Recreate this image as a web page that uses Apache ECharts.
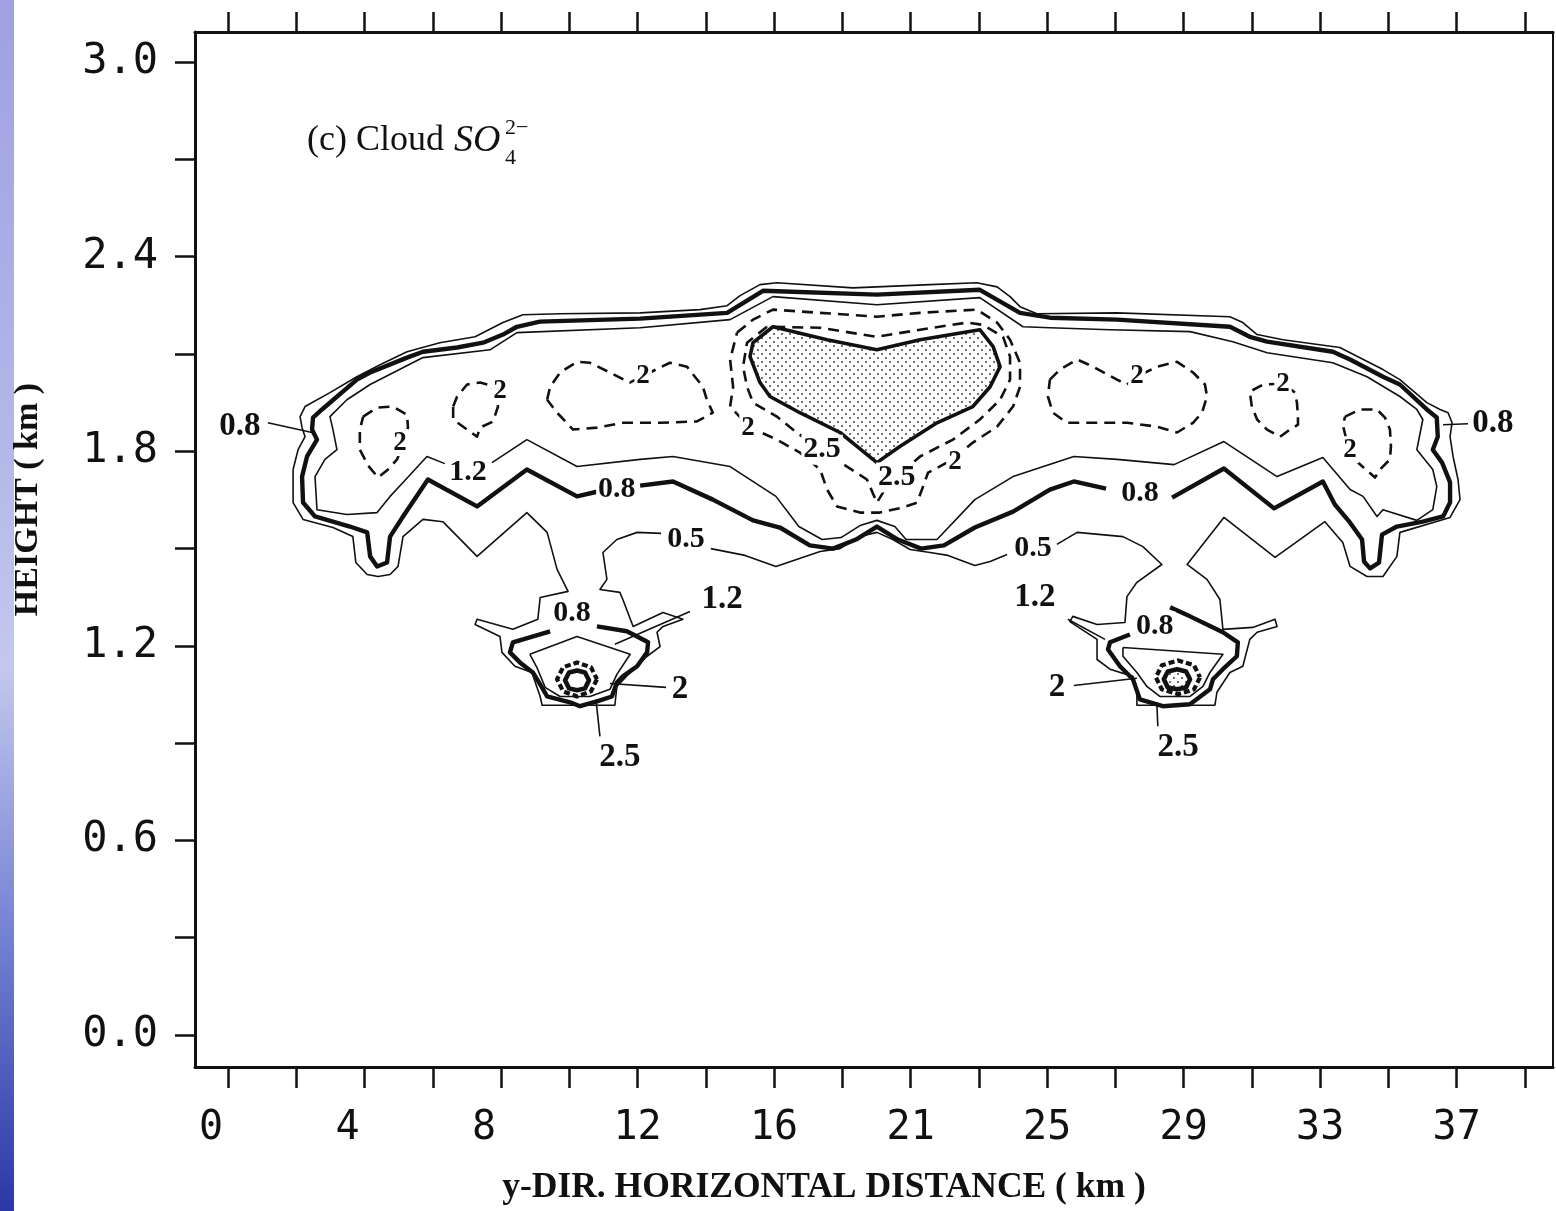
<!DOCTYPE html>
<html><head><meta charset="utf-8">
<script src="https://cdn.jsdelivr.net/npm/echarts@6/dist/echarts.min.js"></script>
<style>html,body{margin:0;padding:0;background:#fff;}#c{width:1556px;height:1211px;}</style>
</head><body><div id="c"></div>
<script>
// ---- axis definitions (km, height km) ----
const xTickKm = [0,2.056,4.111,6.167,8.222,10.278,12.333,14.389,16.444,18.5,20.556,22.611,24.667,26.722,28.778,30.833,32.889,34.944,37,39.056];
const xLabelKm = [0,4.111,8.222,12.333,16.444,20.556,24.667,28.778,32.889,37];
const xTickLabels = ['0','4','8','12','16','21','25','29','33','37'];
const yTickVals = [0,0.3,0.6,0.9,1.2,1.5,1.8,2.1,2.4,2.7,3.0];
const yLabelVals = [0,0.6,1.2,1.8,2.4,3.0];

// ---- contour 0.5 (thin) ----
const c05Main = [[13.04,1.547],[12.32,1.550],[11.71,1.528],[11.29,1.488],[11.41,1.405],[11.20,1.374],[11.80,1.365],[11.89,1.343],[12.20,1.260],[13.10,1.303],[13.70,1.282],[13.10,1.260],[12.92,1.242],[13.01,1.198],[12.62,1.168],[12.11,1.118],[11.71,1.075],[11.65,1.017],[9.46,1.017],[9.40,1.044],[9.15,1.118],[8.64,1.137],[8.25,1.180],[8.19,1.229],[7.44,1.266],[7.50,1.282],[8.58,1.251],[9.33,1.282],[9.40,1.349],[10.24,1.368],[9.91,1.436],[9.61,1.550],[9.00,1.611],[7.50,1.476],[6.47,1.583],[5.87,1.590],[5.27,1.537],[5.12,1.445],[4.88,1.420],[4.52,1.414],[4.19,1.420],[3.85,1.457],[3.76,1.537],[3.16,1.565],[2.26,1.590],[1.96,1.642],[1.96,1.744],[2.11,1.805],[2.32,1.845],[2.23,1.873],[2.17,1.907],[2.32,1.938],[3.07,1.981],[3.88,2.030],[4.58,2.067],[5.39,2.107],[6.38,2.135],[7.44,2.153],[8.28,2.197],[8.88,2.221],[10.00,2.224],[12.41,2.227],[14.21,2.237],[15.03,2.249],[15.42,2.280],[16.02,2.314],[16.53,2.320],[18.82,2.304],[21.14,2.314],[22.55,2.320],[23.16,2.307],[23.55,2.277],[23.85,2.246],[24.36,2.224],[26.77,2.227],[30.17,2.215],[30.56,2.197],[30.99,2.160],[31.77,2.144],[33.48,2.120],[33.79,2.104],[34.78,2.052],[35.29,2.021],[36.10,1.950],[36.50,1.929],[36.74,1.919],[36.86,1.888],[36.80,1.845],[36.89,1.784],[37.04,1.713],[37.10,1.651],[36.80,1.596],[35.29,1.550],[35.20,1.476],[34.78,1.414],[34.30,1.414],[33.79,1.445],[33.57,1.519],[33.03,1.583],[31.53,1.473],[29.99,1.596],[28.88,1.451],[29.48,1.405],[29.87,1.343],[29.96,1.251],[30.86,1.257],[31.53,1.282],[31.59,1.260],[30.99,1.242],[30.77,1.220],[30.56,1.137],[30.17,1.118],[29.78,1.057],[29.72,1.017],[27.37,1.017],[27.37,1.057],[27.25,1.106],[26.56,1.128],[26.17,1.158],[26.17,1.220],[25.35,1.275],[25.44,1.291],[26.17,1.266],[27.01,1.272],[27.07,1.352],[27.37,1.396],[28.12,1.451],[27.55,1.506],[26.95,1.537],[25.57,1.550],[24.96,1.513]];
const c05Mid = [[23.46,1.482],[22.95,1.460],[22.49,1.448],[21.68,1.479],[21.14,1.488],[20.54,1.497],[20.02,1.528],[19.54,1.550],[19.03,1.537],[18.43,1.500],[17.83,1.491],[16.50,1.445],[15.57,1.479],[14.54,1.500]];

// ---- contour 0.8 (thick) ----
const c08Bottom = [[12.41,1.694],[13.40,1.707],[14.60,1.651],[15.81,1.587],[16.62,1.565],[17.52,1.510],[18.22,1.500],[18.91,1.528],[19.54,1.568],[20.17,1.528],[20.87,1.500],[21.56,1.510],[22.49,1.565],[23.64,1.614],[24.75,1.682],[25.47,1.707],[26.44,1.685]];
const c08Main = [[28.43,1.657],[29.99,1.747],[31.50,1.624],[32.97,1.707],[33.33,1.636],[33.79,1.580],[34.15,1.528],[34.21,1.460],[34.39,1.439],[34.66,1.457],[34.75,1.543],[35.20,1.568],[35.98,1.583],[36.59,1.599],[36.80,1.642],[36.80,1.704],[36.56,1.765],[36.28,1.805],[36.43,1.845],[36.40,1.904],[36.10,1.929],[35.29,2.006],[34.78,2.030],[33.79,2.083],[33.27,2.107],[31.29,2.138],[30.77,2.153],[30.17,2.184],[26.77,2.206],[24.75,2.212],[23.85,2.227],[22.64,2.298],[19.54,2.283],[16.11,2.295],[15.03,2.227],[12.41,2.209],[9.39,2.200],[8.70,2.184],[8.28,2.160],[7.68,2.135],[6.90,2.120],[5.87,2.107],[5.39,2.089],[4.28,2.043],[3.88,2.021],[2.83,1.929],[2.56,1.904],[2.53,1.867],[2.68,1.836],[2.38,1.784],[2.23,1.722],[2.26,1.642],[2.62,1.599],[3.67,1.568],[4.19,1.550],[4.28,1.476],[4.49,1.445],[4.79,1.457],[4.88,1.537],[5.27,1.599],[6.02,1.713],[7.50,1.630],[9.00,1.744],[10.51,1.661],[11.14,1.676]];

// ---- contour 1.2 (thin) ----
const c12 = [[7.95,1.765],[9.00,1.836],[10.51,1.753],[12.41,1.775],[13.40,1.784],[15.12,1.753],[16.50,1.661],[17.19,1.568],[17.89,1.528],[18.46,1.534],[19.03,1.571],[19.54,1.587],[20.08,1.568],[20.42,1.528],[21.35,1.528],[22.49,1.651],[23.64,1.722],[25.47,1.784],[26.77,1.775],[28.49,1.759],[29.99,1.830],[31.59,1.722],[32.97,1.781],[33.79,1.682],[34.18,1.661],[34.60,1.599],[34.78,1.620],[35.80,1.587],[36.28,1.620],[36.40,1.691],[36.28,1.744],[35.80,1.805],[35.98,1.898],[35.80,1.929],[35.29,1.969],[34.30,2.030],[33.27,2.073],[31.29,2.104],[30.26,2.138],[28.97,2.169],[26.56,2.175],[24.75,2.181],[23.94,2.184],[22.64,2.274],[19.54,2.252],[16.41,2.277],[15.12,2.206],[12.41,2.181],[8.70,2.166],[7.89,2.113],[5.87,2.089],[4.28,2.006],[3.58,1.959],[3.07,1.907],[3.16,1.867],[3.28,1.805],[2.92,1.775],[2.62,1.722],[2.68,1.620],[3.58,1.605],[4.49,1.611],[4.88,1.661],[5.27,1.704],[5.99,1.784],[6.53,1.762]];

// ---- contour 2 (dashed loops) ----
const c2LoopA = [[4.07,1.907],[4.49,1.935],[4.97,1.938],[5.39,1.913],[5.42,1.873],[5.30,1.830],[5.09,1.775],[4.82,1.744],[4.52,1.719],[4.22,1.756],[3.97,1.805],[3.97,1.867]];
const c2LoopB = [[6.78,1.938],[6.90,1.969],[7.20,2.006],[7.59,2.012],[7.95,2.002],[8.13,1.938],[7.98,1.892],[7.59,1.873],[7.50,1.845],[7.20,1.867],[6.78,1.898]];
const c2LoopC = [[9.61,1.959],[9.70,1.999],[10.00,2.043],[10.51,2.076],[10.90,2.073],[11.50,2.043],[12.10,2.012],[12.50,2.033],[13.31,2.073],[13.82,2.061],[14.30,1.999],[14.42,1.959],[14.60,1.919],[14.12,1.892],[13.01,1.888],[11.89,1.888],[11.11,1.873],[10.39,1.867],[9.91,1.919]];
const c2Centre = [[15.33,2.166],[15.81,2.206],[16.41,2.237],[17.83,2.227],[19.54,2.215],[20.84,2.227],[22.55,2.237],[23.16,2.197],[23.55,2.144],[23.85,2.073],[23.85,1.999],[23.64,1.938],[23.16,1.876],[22.43,1.827],[21.83,1.775],[21.08,1.734],[20.93,1.691],[20.75,1.642],[20.33,1.627],[19.63,1.611],[19.03,1.611],[18.34,1.630],[18.04,1.682],[17.83,1.744],[17.22,1.796],[16.53,1.836],[15.72,1.873],[15.12,1.938],[15.21,1.999],[15.12,2.083]];
const c2LoopD = [[24.75,2.021],[25.05,2.052],[25.57,2.083],[26.05,2.061],[26.77,2.021],[27.07,2.006],[27.37,2.030],[27.97,2.061],[28.58,2.076],[29.06,2.043],[29.42,2.006],[29.48,1.969],[29.33,1.919],[29.06,1.888],[28.58,1.858],[27.97,1.876],[27.07,1.888],[26.26,1.888],[25.26,1.888],[24.84,1.919],[24.69,1.969]];
const c2LoopE = [[30.83,1.938],[30.77,1.984],[31.17,2.006],[31.77,2.009],[32.13,1.981],[32.19,1.950],[32.22,1.907],[32.22,1.882],[31.98,1.867],[31.68,1.845],[31.29,1.867],[30.99,1.898]];
const c2LoopF = [[33.64,1.907],[34.09,1.929],[34.60,1.929],[34.84,1.904],[34.99,1.867],[35.02,1.815],[34.99,1.775],[34.69,1.744],[34.54,1.719],[34.00,1.768],[33.75,1.805],[33.57,1.882]];

// ---- contour 2.5 (dashed) and core (shaded) ----
const c25Centre = [[16.23,2.184],[15.63,2.135],[15.51,2.061],[15.63,1.999],[15.81,1.950],[16.53,1.907],[17.01,1.867],[17.83,1.805],[18.64,1.753],[19.24,1.713],[19.54,1.642],[19.78,1.682],[20.14,1.722],[20.84,1.784],[21.83,1.836],[22.64,1.898],[23.25,1.959],[23.55,2.021],[23.55,2.092],[23.34,2.153],[22.73,2.190],[22.25,2.197],[20.84,2.175],[19.54,2.153],[17.83,2.181]];
const coreCentre = [[16.41,2.184],[15.81,2.135],[15.72,2.092],[16.02,2.012],[16.32,1.969],[17.22,1.919],[18.43,1.858],[18.94,1.815],[19.54,1.765],[20.23,1.815],[21.35,1.888],[22.43,1.938],[22.95,1.999],[23.25,2.061],[23.04,2.123],[22.64,2.175],[20.84,2.144],[19.54,2.113],[18.04,2.144]];

// ---- lower-left cell ----
const leftCell08 = [[11.11,1.260],[12.01,1.245],[12.32,1.229],[12.65,1.211],[12.62,1.180],[12.32,1.137],[11.89,1.106],[11.71,1.087],[11.56,1.044],[11.11,1.029],[10.60,1.014],[10.30,1.026],[9.61,1.044],[9.49,1.066],[9.18,1.118],[8.79,1.149],[8.49,1.180],[8.58,1.211],[9.70,1.245]];
const leftCell12 = [[9.09,1.174],[10.51,1.229],[12.11,1.174],[11.71,1.112],[11.50,1.066],[10.90,1.044],[10.00,1.044],[9.55,1.072],[9.30,1.134]];
const leftCell2 = [[11.11,1.097],[10.93,1.060],[10.51,1.044],[10.09,1.060],[9.91,1.097],[10.09,1.134],[10.51,1.149],[10.93,1.134]];
const leftCell25 = [[10.87,1.094],[10.75,1.069],[10.51,1.063],[10.27,1.069],[10.15,1.094],[10.27,1.118],[10.51,1.124],[10.75,1.118]];

// ---- lower-right cell ----
const rightCell08 = [[28.37,1.319],[28.97,1.291],[29.96,1.242],[30.41,1.211],[30.38,1.168],[29.96,1.128],[29.66,1.097],[29.57,1.066],[28.97,1.020],[28.15,1.014],[27.46,1.035],[27.25,1.097],[26.86,1.137],[26.50,1.189],[26.56,1.211],[27.16,1.235]];
const rightCell12 = [[26.95,1.195],[29.96,1.174],[29.57,1.118],[29.36,1.075],[28.97,1.044],[28.06,1.044],[27.67,1.075],[27.37,1.118],[26.95,1.168]];
const rightCell2 = [[29.27,1.103],[29.09,1.066],[28.61,1.051],[28.12,1.066],[27.94,1.103],[28.12,1.140],[28.61,1.155],[29.09,1.140]];
const rightCell25 = [[28.97,1.097],[28.85,1.072],[28.58,1.066],[28.30,1.072],[28.18,1.097],[28.30,1.121],[28.58,1.128],[28.85,1.121]];

// ---- label leader lines ----
const leaders = [
  [[1.20,1.888],[2.53,1.858]],
  [[36.59,1.882],[37.34,1.885]],
  [[13.91,1.306],[11.65,1.205]],
  [[13.19,1.072],[11.50,1.084]],
  [[11.20,0.921],[11.08,1.035]],
  [[25.29,1.282],[26.41,1.220]],
  [[25.47,1.078],[27.37,1.100]],
  [[28.00,0.952],[27.97,1.026]]
];

// ---- contour labels [km, height, text] ----
const labelsLarge = [[0.36,1.876,'0.8'],[38.09,1.885,'0.8'],[14.88,1.343,'1.2'],[13.61,1.066,'2'],[11.80,0.856,'2.5'],[24.30,1.349,'1.2'],[24.96,1.072,'2'],[28.61,0.887,'2.5']];
const labelsMedium = [[7.23,1.734,'1.2'],[11.71,1.682,'0.8'],[13.79,1.528,'0.5'],[27.46,1.670,'0.8'],[24.24,1.500,'0.5'],[10.36,1.300,'0.8'],[27.91,1.260,'0.8'],[17.89,1.805,'2.5'],[20.14,1.719,'2.5']];
const labelsSmall = [[5.18,1.827,'2'],[8.19,1.987,'2'],[12.50,2.033,'2'],[15.66,1.873,'2'],[21.89,1.768,'2'],[27.37,2.033,'2'],[31.77,2.006,'2'],[33.79,1.805,'2']];

// ================= rendering =================
const INK = '#111';
const X_MIN = -0.994, X_MAX = 39.9, Y_MIN = -0.0986, Y_MAX = 3.093;
const close = a => a.concat([a[0]]);

function stipple() {
  const c = document.createElement('canvas');
  c.width = 8; c.height = 8;
  const g = c.getContext('2d');
  g.fillStyle = '#fff'; g.fillRect(0, 0, 8, 8);
  g.fillStyle = '#444';
  g.beginPath(); g.arc(2, 2, 1.0, 0, Math.PI * 2); g.fill();
  g.beginPath(); g.arc(6, 6, 1.0, 0, Math.PI * 2); g.fill();
  return c;
}
const dots = { image: stipple(), repeat: 'repeat' };

function ln(data, width, dash, z) {
  return {
    type: 'line', data: data, symbol: 'none', smooth: false, silent: true,
    animation: false, z: z || 3,
    lineStyle: { color: INK, width: width, type: dash || 'solid', cap: 'butt', join: 'round' }
  };
}
function poly(points, fill, width, z) {
  return {
    type: 'custom', silent: true, animation: false, z: z || 4,
    data: [points[0]],
    renderItem: function (params, api) {
      return {
        type: 'polygon',
        shape: { points: points.map(p => api.coord(p)) },
        style: { fill: fill, stroke: INK, lineWidth: width, lineJoin: 'round' }
      };
    }
  };
}
function labelSeries(arr, size) {
  return {
    type: 'custom', silent: true, animation: false, z: 10,
    data: arr.map(l => [l[0], l[1]]),
    renderItem: function (params, api) {
      const p = api.coord([api.value(0), api.value(1)]);
      return {
        type: 'text', x: p[0], y: p[1],
        style: {
          text: arr[params.dataIndex][2], fill: INK,
          font: 'bold ' + size + 'px "Liberation Serif", serif',
          align: 'center', verticalAlign: 'middle',
          backgroundColor: '#fff', padding: [0, 2]
        }
      };
    }
  };
}

const DASH = [11, 7];
const series = [
  ln(c05Main, 1.6), ln(c05Mid, 1.6),
  ln(c08Bottom, 4.4), ln(c08Main, 4.4),
  ln(c12, 1.6),
  ln(close(c2LoopA), 2.6, DASH), ln(close(c2LoopB), 2.6, DASH), ln(close(c2LoopC), 2.6, DASH),
  ln(close(c2Centre), 2.6, DASH), ln(close(c2LoopD), 2.6, DASH), ln(close(c2LoopE), 2.6, DASH),
  ln(close(c2LoopF), 2.6, DASH),
  ln(close(c25Centre), 2.6, DASH),
  poly(coreCentre, dots, 3.6),
  ln(leftCell08, 4.4), ln(close(leftCell12), 1.6), ln(close(leftCell2), 4.2, [6, 3]),
  poly(leftCell25, '#fff', 4.6),
  ln(rightCell08, 4.4), ln(close(rightCell12), 1.6), ln(close(rightCell2), 4.2, [6, 3]),
  poly(rightCell25, dots, 4.6)
];
leaders.forEach(l => series.push(ln(l, 1.6)));
series.push(labelSeries(labelsLarge, 33), labelSeries(labelsMedium, 30), labelSeries(labelsSmall, 27));

function fmtX(v) {
  const i = xLabelKm.findIndex(k => Math.abs(k - v) < 1e-3);
  const t = i >= 0 ? xTickLabels[i] : '';
  return t.length === 1 ? '{one|' + t + '}' : t;
}

const MONO = '"DejaVu Sans Mono", monospace';
const SERIF = '"Liberation Serif", serif';
const option = {
  backgroundColor: '#fff',
  animation: false,
  grid: { left: 195, right: 3, top: 32, bottom: 143, containLabel: false },
  xAxis: [{
    type: 'value', position: 'bottom', min: X_MIN, max: X_MAX,
    axisLine: { show: true, onZero: false, lineStyle: { color: INK, width: 3 } },
    axisTick: { show: true, inside: false, length: 21, customValues: xTickKm, lineStyle: { color: INK, width: 2.5 } },
    axisLabel: {
      show: true, customValues: xLabelKm, margin: 42, formatter: fmtX,
      fontFamily: MONO, fontSize: 40, color: INK,
      rich: { one: { fontFamily: MONO, fontSize: 40, color: INK, padding: [0, 34, 0, 0] } }
    },
    splitLine: { show: false },
    name: 'y-DIR. HORIZONTAL DISTANCE ( km )', nameLocation: 'middle', nameGap: 103,
    nameTextStyle: { fontFamily: SERIF, fontWeight: 'bold', fontSize: 35.5, color: INK, padding: [0, 100, 0, 0] }
  }, {
    type: 'value', position: 'top', min: X_MIN, max: X_MAX,
    axisLine: { show: true, onZero: false, lineStyle: { color: INK, width: 3 } },
    axisTick: { show: true, inside: false, length: 20, customValues: xTickKm, lineStyle: { color: INK, width: 2.5 } },
    axisLabel: { show: false }, splitLine: { show: false }
  }],
  yAxis: [{
    type: 'value', position: 'left', min: Y_MIN, max: Y_MAX,
    axisLine: { show: true, onZero: false, lineStyle: { color: INK, width: 3 } },
    axisTick: { show: true, inside: false, length: 20, customValues: yTickVals, lineStyle: { color: INK, width: 2.5 } },
    axisLabel: {
      show: true, customValues: yLabelVals, margin: 37,
      formatter: v => v.toFixed(1),
      fontFamily: MONO, fontSize: 42, color: INK
    },
    splitLine: { show: false },
    name: 'HEIGHT ( km )', nameLocation: 'middle', nameGap: 150, nameRotate: 90,
    nameTextStyle: { fontFamily: SERIF, fontWeight: 'bold', fontSize: 34, color: INK, padding: [0, 0, 0, 100] }
  }, {
    type: 'value', position: 'right', min: Y_MIN, max: Y_MAX,
    axisLine: { show: true, onZero: false, lineStyle: { color: INK, width: 2 } },
    axisTick: { show: false }, axisLabel: { show: false }, splitLine: { show: false }
  }],
  graphic: [
    { type: 'rect', left: 0, top: 0, z: 0, shape: { width: 14, height: 1211 },
      style: { fill: { type: 'linear', x: 0, y: 0, x2: 0, y2: 1, colorStops: [
        { offset: 0, color: '#a0a0e2' }, { offset: 0.35, color: '#b2b6e8' }, { offset: 0.55, color: '#c4c8ee' },
        { offset: 0.75, color: '#7c88d6' }, { offset: 1, color: '#2a38a6' }] } } },
    { type: 'text', x: 307, y: 141, z: 20, style: { text: '(c) Cloud', font: '36px ' + SERIF, fill: INK, verticalAlign: 'middle' } },
    { type: 'text', x: 454, y: 141, z: 20, style: { text: 'SO', font: 'italic 38px ' + SERIF, fill: INK, verticalAlign: 'middle' } },
    { type: 'text', x: 505, y: 158, z: 20, style: { text: '4', font: '22px ' + SERIF, fill: INK, verticalAlign: 'middle' } },
    { type: 'text', x: 505, y: 128, z: 20, style: { text: '2−', font: '22px ' + SERIF, fill: INK, verticalAlign: 'middle' } }
  ],
  series: series
};

const chart = echarts.init(document.getElementById('c'), null, { renderer: 'canvas' });
chart.setOption(option);
</script>
</body></html>
